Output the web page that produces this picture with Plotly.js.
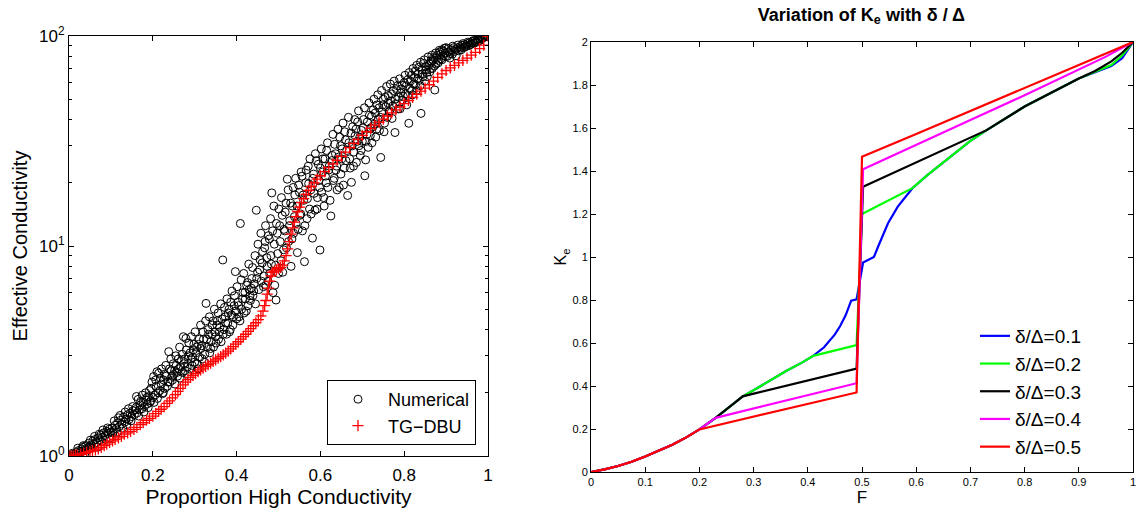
<!DOCTYPE html>
<html>
<head>
<meta charset="utf-8">
<script src="https://cdn.plot.ly/plotly-3.0.1.min.js"></script>
<style>html,body{margin:0;padding:0;background:#fff;}#chart{width:1138px;height:509px;}</style>
</head>
<body>
<div id="chart"></div>
<script>
// ---------- Left panel: effective conductivity ----------
const numX = [0,0.005,0.01,0.012,0.018,0.022,0.025,0.03,0.033,0.036,0.04,0.043,0.047,0.05,0.053,0.057,0.06,0.063,0.066,0.07,0.073,0.076,0.08,0.083,0.086,0.09,0.093,0.096,0.1,
0.103,0.106,0.11,0.113,0.116,0.12,0.123,0.126,0.13,0.133,0.136,0.14,0.143,0.146,0.15,0.153,0.156,0.16,0.162,0.165,0.168,0.17,0.174,0.177,0.18,0.184,0.187,0.19,0.193,0.196,0.2,
0.202,0.205,0.208,0.211,0.214,0.217,0.22,0.223,0.226,0.229,0.232,0.235,0.238,0.241,0.244,0.247,0.25,0.253,0.256,0.259,0.262,0.265,0.268,0.271,0.274,0.277,0.279,0.282,0.285,0.288,0.291,0.294,0.297,0.3,
0.303,0.306,0.309,0.312,0.315,0.318,0.321,0.324,0.327,0.33,0.333,0.336,0.339,0.342,0.345,0.348,0.351,0.354,0.357,0.36,0.363,0.367,0.37,0.373,0.376,0.379,0.382,0.385,0.388,0.391,0.394,0.397,0.4,
0.403,0.406,0.409,0.412,0.415,0.418,0.421,0.424,0.427,0.43,0.433,0.436,0.439,0.442,0.445,0.447,0.45,0.453,0.456,0.459,0.462,0.465,0.468,0.47,0.473,0.476,0.479,0.482,0.484,0.487,0.49,0.493,0.494,0.497,0.5,
0.503,0.506,0.509,0.512,0.515,0.518,0.521,0.524,0.527,0.53,0.533,0.536,0.539,0.542,0.545,0.548,0.551,0.554,0.557,0.56,0.562,0.565,0.568,0.571,0.574,0.577,0.581,0.584,0.587,0.59,0.593,0.596,0.599,0.6,
0.603,0.606,0.609,0.612,0.615,0.618,0.621,0.625,0.628,0.631,0.634,0.637,0.64,0.643,0.646,0.649,0.652,0.655,0.658,0.661,0.665,0.668,0.671,0.674,0.677,0.68,0.683,0.686,0.689,0.692,0.695,0.698,0.7,
0.703,0.706,0.708,0.711,0.714,0.717,0.72,0.723,0.726,0.729,0.732,0.735,0.738,0.741,0.744,0.747,0.75,0.753,0.756,0.759,0.762,0.765,0.768,0.771,0.774,0.778,0.781,0.784,0.787,0.79,0.793,0.796,0.8,
0.803,0.806,0.809,0.811,0.814,0.817,0.82,0.823,0.826,0.829,0.832,0.835,0.838,0.84,0.843,0.846,0.849,0.852,0.855,0.858,0.861,0.864,0.867,0.87,0.873,0.876,0.879,0.882,0.885,0.888,0.891,0.894,0.897,0.9,
0.903,0.906,0.909,0.912,0.915,0.918,0.921,0.924,0.927,0.93,0.933,0.936,0.939,0.942,0.945,0.948,0.951,0.954,0.957,0.96,0.963,0.966,0.969,0.972,0.975,0.978,0.981,0.984,0.987,0.99,0.993,0.996,1.0];
const numY = [1,1,1.02,1,1.04,1.06,1.03,1.08,1.1,1.06,1.12,1.09,1.15,1.11,1.13,1.18,1.14,1.2,1.16,1.22,1.19,1.26,1.23,1.29,1.25,1.31,1.28,1.34,1.3,
1.36,1.32,1.4,1.35,1.44,1.38,1.48,1.42,1.53,1.45,1.5,1.57,1.49,1.6,1.54,1.64,1.57,1.7,1.6,1.86,1.66,1.75,1.68,1.8,1.72,1.85,1.77,1.92,1.8,2.1,1.9,
2.39,1.95,2.15,1.88,2.48,2.05,2.2,1.98,2.3,2.1,2.4,2.15,3.14,2.25,2.55,2.3,2.45,2.2,2.7,2.4,2.6,2.35,2.85,2.5,2.75,2.55,3.63,2.65,3.0,2.6,2.9,2.7,3.2,2.8,
3.1,2.75,3.4,2.95,3.25,2.9,3.6,3.05,5.33,3.3,3.8,3.1,3.5,4.2,3.3,3.9,3.45,4.4,3.6,4.1,3.5,8.58,4.0,4.6,3.8,4.3,5.0,4.0,4.7,4.2,5.2,7.55,4.5,
5.4,4.6,12.8,5.0,6.0,4.8,5.6,6.5,5.2,6.2,5.5,7.0,5.8,6.6,5.3,14.8,7.5,6.2,8.6,6.8,9.4,7.2,10.5,6.5,8.0,11.2,7.4,9.0,17.9,6.0,10.2,8.1,5.53,11.5,7.4,
12.5,8.5,14.0,9.6,11.8,16.0,20.8,10.5,13.2,8.0,15.5,11.5,17.5,12.8,9.3,19.5,14.0,22.5,11.8,16.5,8.42,20.0,13.5,24.0,15.0,18.5,10.9,22.0,14.8,25.5,17.0,20.5,9.57,23.5,
18.0,26.0,15.5,21.5,28.5,19.0,24.0,13.9,27.0,20.5,30.5,23.0,18.5,26.5,33.0,22.0,29.0,19.5,35.0,25.5,17.4,31.0,23.5,20.1,37.0,28.0,33.5,25.0,39.0,30.0,27.0,35.5,31.5,
40.0,21.6,25.7,34.0,29.5,42.0,36.5,31.0,44.5,38.0,33.0,47.0,40.0,35.5,26.4,43.5,50.0,38.5,46.0,41.0,52.0,44.0,49.0,40.5,55.0,34.7,47.5,58.0,51.0,45.0,56.0,49.5,60.0,
53.0,47.0,62.0,38.4,56.0,65.0,52.5,59.0,68.0,55.0,62.5,71.0,58.0,42.8,66.0,74.0,61.0,69.0,64.0,72.0,67.5,76.0,70.0,79.0,55.3,73.5,81.0,76.5,84.0,78.0,86.0,80.5,83.0,88.0,
80.0,84.0,78.5,86.0,82.0,88.0,84.5,80.5,87.5,85.0,89.0,86.0,90.5,88.0,91.0,89.5,92.0,90.0,93.0,91.5,94.0,92.5,95.0,94.0,96.0,95.0,97.0,98.0,98.5,99.2,99.6,100,100];

const numX2 = [0.008,0.015,0.021,0.027,0.034,0.038,0.045,0.051,0.055,0.061,0.068,0.072,0.078,0.081,0.088,0.092,0.098,
0.105,0.108,0.115,0.118,0.122,0.128,0.134,0.138,0.142,0.148,0.152,0.158,0.161,0.166,0.171,0.175,0.179,0.183,0.186,0.189,0.192,0.195,0.198,
0.203,0.207,0.21,0.213,0.218,0.221,0.225,0.228,0.231,0.236,0.24,0.243,0.246,0.249,0.252,0.255,0.258,0.261,0.264,0.267,0.27,0.273,0.276,0.28,0.283,0.286,0.289,0.292,0.295,0.298,
0.301,0.305,0.308,0.311,0.314,0.317,0.32,0.323,0.326,0.329,0.332,0.335,0.338,0.341,0.344,0.347,0.35,0.353,0.356,0.359,0.362,0.365,0.368,0.371,0.374,0.377,0.38,0.383,0.386,0.389,0.392,0.395,0.398,
0.401,0.405,0.408,0.411,0.414,0.417,0.42,0.423,0.426,0.429,0.432,0.435,0.438,0.441,0.444,0.448,
0.451,0.455,0.458,0.461,0.464,0.467,0.469,0.472,0.475,0.478,0.481,0.483,0.486,0.489,0.491,0.495,0.498,0.501,0.504,0.507,0.51,0.513,0.516,0.519,0.523,0.526,0.529,0.532,0.535,0.538,0.541,0.544,0.547,0.55,
0.553,0.556,0.559,0.563,0.566,0.569,0.572,0.575,0.578,0.582,0.585,0.588,0.592,0.595,0.598,0.602,0.605,0.608,0.611,0.614,0.617,0.62,0.623,0.627,0.63,0.633,0.636,0.639,0.642,0.645,0.648,0.651,0.654,0.657,0.66,0.663,0.667,0.67,0.673,0.676,0.679,0.682,0.685,0.688,0.691,0.694,0.697,
0.702,0.705,0.709,0.712,0.716,0.719,0.722,0.725,0.728,0.731,0.734,0.737,0.74,0.743,0.746,0.749,0.752,0.755,0.758,0.761,0.764,0.767,0.77,0.773,0.776,0.779,0.782,0.786,0.789,0.792,0.795,0.798,
0.802,0.805,0.808,0.812,0.815,0.818,0.821,0.824,0.827,0.83,0.833,0.836,0.839,0.842,0.845,0.848,
0.851,0.854,0.857,0.86,0.863,0.866,0.869,0.872,0.875,0.878,0.881,0.884,0.887,0.89,0.893,0.896,0.899,0.905,0.91,0.916,0.922,0.928,0.934,0.94,0.946,0.952,0.958,0.964,0.97,0.976,0.982,0.988,0.994,0.998];
const numY2 = [1.03,1.01,1.09,1.05,1.12,1.03,1.07,1.19,1.09,1.24,1.1,1.27,1.17,1.33,1.2,1.36,1.22,
1.29,1.47,1.3,1.52,1.56,1.36,1.62,1.41,1.68,1.47,1.72,1.66,1.92,1.55,1.82,1.95,1.62,2.0,1.9,1.7,2.05,1.83,2.25,
1.8,2.3,2.52,2.0,2.35,2.6,2.0,2.45,2.7,2.25,2.6,2.9,2.4,2.75,2.55,3.0,2.5,2.9,3.3,2.65,3.05,3.7,2.9,3.2,2.45,3.45,3.1,3.7,2.95,3.4,
3.9,3.3,2.6,3.6,4.2,3.35,3.9,2.8,4.4,3.6,4.0,4.6,3.25,3.8,4.4,5.0,3.7,4.2,4.8,3.9,5.3,4.5,3.8,5.1,4.3,5.6,4.8,3.9,5.4,6.1,4.6,5.8,4.9,
6.4,5.2,4.4,6.9,5.6,7.4,6.0,4.9,6.7,8.2,5.8,6.3,7.9,6.1,9.0,7.0,
10.2,7.7,11.5,8.3,6.4,9.8,12.5,8.8,6.8,10.8,13.5,8.2,11.8,15.5,6.5,12.8,9.2,15.0,10.5,17.0,7.5,12.0,14.5,9.8,18.5,12.5,16.0,10.8,19.0,13.8,21.0,15.5,12.0,18.0,
14.2,21.5,17.5,12.5,23.0,16.8,19.8,26.0,14.2,21.0,17.8,27.5,15.0,24.5,19.0,29.0,22.5,17.0,26.0,20.0,31.0,23.0,16.5,25.5,34.0,21.0,27.5,24.0,36.0,19.0,30.0,26.0,38.5,23.5,32.0,28.5,41.0,26.0,34.5,30.0,24.0,40.0,36.0,31.5,44.0,33.0,28.5,
36.5,45.5,31.5,39.0,48.0,33.5,41.5,37.0,50.0,43.0,36.0,52.5,45.5,41.0,55.0,47.0,35.0,51.0,57.5,48.0,43.5,59.0,53.0,46.5,61.0,50.0,55.5,45.0,62.5,53.5,58.5,51.5,
65.0,58.0,52.0,67.0,61.0,55.0,70.0,63.5,58.5,72.5,66.0,61.5,75.0,69.0,64.0,77.0,
71.5,67.0,79.5,74.0,70.0,81.0,76.5,72.0,83.0,78.5,74.5,85.5,81.5,77.0,84.5,87.5,80.0,87.0,82.5,89.5,86.0,90.5,87.5,92.0,89.0,93.5,91.0,95.0,93.0,96.5,95.5,98.0,99.0,100];

const tgX = [0,0.005,0.01,0.015,0.02,0.028,0.035,0.042,0.05,0.056,0.063,0.07,0.077,0.084,0.09,0.097,0.104,0.11,0.118,0.125,0.132,0.14,0.147,0.155,0.162,0.17,0.177,0.185,0.192,0.2,
0.207,0.214,0.22,0.227,0.234,0.24,0.247,0.254,0.26,0.266,0.272,0.278,0.284,0.29,0.296,0.302,0.308,0.314,0.32,0.326,0.332,0.338,0.344,0.35,0.356,0.362,0.368,0.374,0.38,0.386,0.392,0.398,
0.404,0.41,0.416,0.422,0.428,0.434,0.44,0.446,0.452,0.458,0.463,0.467,0.47,0.473,0.476,0.479,0.482,0.485,0.49,0.495,0.5,0.505,0.51,0.514,0.518,0.522,0.526,0.53,0.534,0.538,0.542,0.546,0.55,
0.555,0.56,0.566,0.572,0.578,0.585,0.592,0.6,0.61,0.62,0.63,0.64,0.65,0.66,0.67,0.68,0.69,0.7,0.71,0.72,0.73,0.74,0.75,0.76,0.77,0.78,0.79,0.8,
0.81,0.82,0.83,0.84,0.85,0.86,0.87,0.88,0.89,0.9,0.91,0.92,0.93,0.94,0.95,0.96,0.97,0.98,0.99,1.0];
const tgY = [1.0,1.0,1.0,1.01,1.01,1.02,1.03,1.04,1.05,1.06,1.07,1.08,1.1,1.12,1.14,1.16,1.18,1.2,1.22,1.24,1.27,1.29,1.31,1.34,1.37,1.41,1.44,1.48,1.51,1.55,
1.59,1.63,1.67,1.72,1.78,1.83,1.89,1.96,2.03,2.1,2.18,2.25,2.31,2.37,2.42,2.47,2.52,2.57,2.62,2.67,2.72,2.77,2.82,2.87,2.92,2.97,3.03,3.09,3.16,3.24,3.32,3.41,
3.5,3.6,3.7,3.8,3.92,4.04,4.17,4.31,4.46,4.65,4.9,5.2,5.5,5.9,6.3,6.8,7.2,7.5,7.6,7.7,7.8,7.9,8.1,8.5,9.0,9.7,10.5,11.4,12.2,13.0,13.8,14.6,15.3,
16.1,16.8,17.6,18.4,19.2,20.0,20.8,21.6,22.6,23.6,24.6,25.6,26.7,28.0,29.4,30.8,32.2,33.6,35.0,36.3,37.6,38.9,40.2,41.6,43.0,44.5,46.0,47.6,
49.3,51.0,52.8,54.6,56.5,58.6,61.0,63.5,66.0,68.5,70.5,72.5,74.5,76.5,78.5,81.0,83.5,87.0,90.5,100];

const leftXTicks = [0,0.2,0.4,0.6,0.8,1];
const leftYTicks = [1,10,100];
const leftYTickText = ['10<sup>0</sup>','10<sup>1</sup>','10<sup>2</sup>'];

// ---------- Right panel: Ke vs F ----------
const d1F = [0,0.025,0.05,0.075,0.1,0.125,0.15,0.175,0.2,0.23,0.255,0.28,0.3,0.33,0.36,0.39,0.41,0.43,0.45,0.46,0.47,0.48,0.49,0.502,0.522,0.53,0.548,0.566,0.593,0.62,0.65,0.7,0.73,0.8,0.9,0.93,0.96,0.98,1];
const d1K = [0,0.012,0.028,0.048,0.072,0.098,0.127,0.16,0.198,0.252,0.3,0.352,0.38,0.425,0.47,0.51,0.54,0.58,0.64,0.68,0.73,0.797,0.803,0.974,1.0,1.05,1.157,1.234,1.32,1.38,1.44,1.54,1.59,1.70,1.83,1.858,1.888,1.925,2];
const d2F = [0,0.025,0.05,0.075,0.1,0.125,0.15,0.175,0.2,0.23,0.255,0.28,0.3,0.33,0.36,0.39,0.41,0.49,0.5,0.593,0.62,0.65,0.7,0.73,0.8,0.9,0.93,0.96,0.98,1];
const d2K = [0,0.012,0.028,0.048,0.072,0.098,0.127,0.16,0.198,0.252,0.3,0.352,0.38,0.425,0.47,0.51,0.54,0.59,1.2,1.32,1.38,1.44,1.54,1.59,1.70,1.83,1.86,1.893,1.937,2];
const d3F = [0,0.025,0.05,0.075,0.1,0.125,0.15,0.175,0.2,0.23,0.255,0.28,0.49,0.502,0.73,0.8,0.9,0.93,0.96,0.98,1];
const d3K = [0,0.012,0.028,0.048,0.072,0.098,0.127,0.16,0.198,0.252,0.3,0.352,0.481,1.327,1.59,1.70,1.83,1.865,1.91,1.95,2];
const d4F = [0,0.025,0.05,0.075,0.1,0.125,0.15,0.175,0.2,0.23,0.49,0.502,0.6,0.7,0.8,0.9,0.95,1];
const d4K = [0,0.012,0.028,0.048,0.072,0.098,0.127,0.16,0.198,0.252,0.413,1.408,1.523,1.637,1.752,1.87,1.932,2];
const d5F = [0,0.025,0.05,0.075,0.1,0.125,0.15,0.175,0.2,0.49,0.5,0.6,0.7,0.8,0.9,0.95,1];
const d5K = [0,0.012,0.028,0.048,0.072,0.098,0.127,0.16,0.198,0.37,1.466,1.572,1.679,1.786,1.893,1.946,2];

const seriesNames = ['δ/Δ=0.1','δ/Δ=0.2','δ/Δ=0.3','δ/Δ=0.4','δ/Δ=0.5'];
const seriesColors = ['#0000ff','#00ff00','#000000','#ff00ff','#ff0000'];
const rightXTicks = [0,0.1,0.2,0.3,0.4,0.5,0.6,0.7,0.8,0.9,1];
const rightYTicks = [0,0.2,0.4,0.6,0.8,1,1.2,1.4,1.6,1.8,2];

const FONT = 'Liberation Sans, Arial, Helvetica, sans-serif';

const rightF = [d1F,d2F,d3F,d4F,d5F];
const rightK = [d1K,d2K,d3K,d4K,d5K];

const traces = [
  {x: numX.concat(numX2), y: numY.concat(numY2), type: 'scatter', mode: 'markers', name: 'Numerical', xaxis: 'x', yaxis: 'y', legend: 'legend',
   marker: {symbol: 'circle-open', size: 8, color: '#000', line: {width: 1, color: '#000'}}},
  {x: tgX, y: tgY, type: 'scatter', mode: 'markers', name: 'TG−DBU', xaxis: 'x', yaxis: 'y', legend: 'legend',
   marker: {symbol: 'cross-thin', size: 8, color: '#ff0000', line: {width: 1.3, color: '#ff0000'}}}
];
for (let i = 0; i < 5; i++) {
  traces.push({x: rightF[i], y: rightK[i], type: 'scatter', mode: 'lines', name: seriesNames[i],
    xaxis: 'x2', yaxis: 'y2', legend: 'legend2', line: {color: seriesColors[i], width: 2.2}});
}

const axBase = {showgrid: false, zeroline: false, showline: true, linecolor: '#000', linewidth: 1,
  mirror: 'ticks', ticks: 'inside', ticklen: 5, tickcolor: '#000', tickwidth: 1, ticklabeloverflow: 'allow'};

const layout = {
  width: 1138, height: 509,
  margin: {l: 0, r: 0, t: 0, b: 0},
  paper_bgcolor: '#fff', plot_bgcolor: '#fff',
  font: {family: FONT, color: '#000'},
  title: {text: '<b>Variation of K<sub>e</sub> with δ / Δ</b>', x: 0.757, xanchor: 'center', y: 0.972, yanchor: 'middle',
          font: {family: FONT, size: 18, color: '#000'}},
  xaxis: Object.assign({}, axBase, {domain: [69/1138, 488/1138], range: [0, 1], tickvals: leftXTicks,
    tickfont: {size: 17}, anchor: 'y', ticklabelstandoff: 4,
    title: {text: 'Proportion High Conductivity', font: {size: 21}, standoff: 2}}),
  yaxis: Object.assign({}, axBase, {domain: [1-456/509, 1-36/509], type: 'log', range: [0, 2],
    tickvals: leftYTicks, ticktext: leftYTickText, tickfont: {size: 17}, anchor: 'x',
    minor: {ticks: 'inside', ticklen: 3, tickcolor: '#000', dtick: 'D1', showgrid: false},
    title: {text: 'Effective Conductivity', font: {size: 20}, standoff: 6}}),
  xaxis2: Object.assign({}, axBase, {domain: [591/1138, 1133/1138], range: [0, 1], tickvals: rightXTicks,
    tickfont: {size: 11}, anchor: 'y2',
    title: {text: 'F', font: {size: 17}, standoff: 0}}),
  yaxis2: Object.assign({}, axBase, {domain: [1-472/509, 1-42/509], range: [0, 2], tickvals: rightYTicks,
    tickfont: {size: 11}, anchor: 'x2',
    title: {text: 'K<sub>e</sub>', font: {size: 16}, standoff: 1}}),
  legend: {x: 476/1138, xanchor: 'right', y: 1-445/509, yanchor: 'bottom', bgcolor: '#fff',
    bordercolor: '#000', borderwidth: 1, itemwidth: 50, font: {size: 18, family: FONT}},
  legend2: {x: 975/1138, xanchor: 'left', y: 1-466/509, yanchor: 'bottom', bgcolor: 'rgba(0,0,0,0)',
    borderwidth: 0, font: {size: 19, family: FONT}},
  showlegend: true
};

Plotly.newPlot('chart', traces, layout, {displayModeBar: false, staticPlot: true});
</script>
</body>
</html>
